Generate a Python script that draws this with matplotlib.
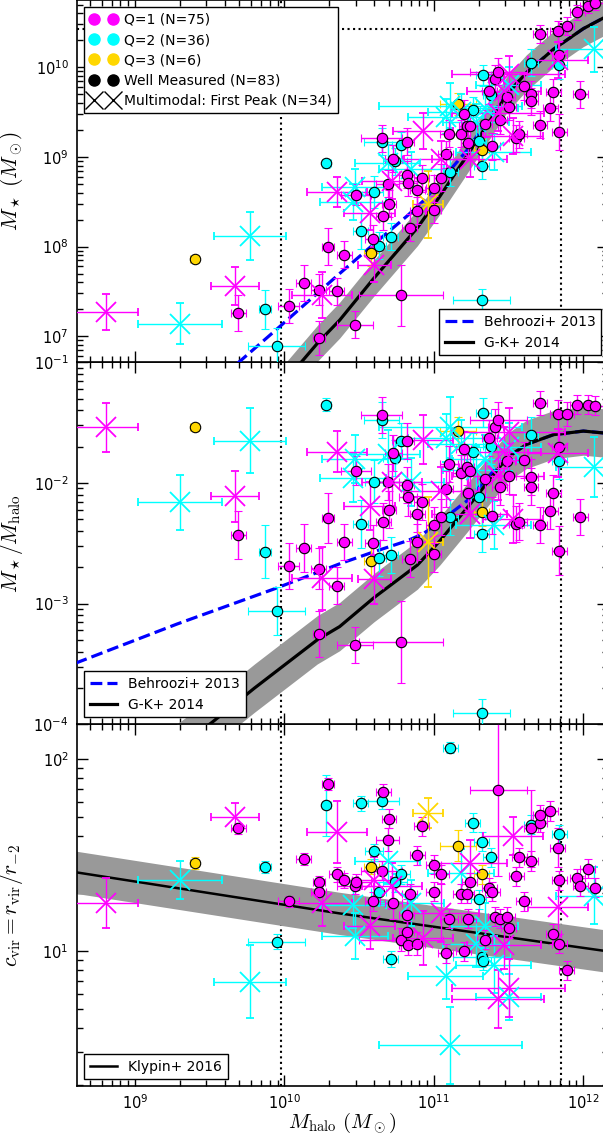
import numpy as np
import matplotlib
matplotlib.use("Agg")
import matplotlib.pyplot as plt
from matplotlib.lines import Line2D
from matplotlib.ticker import NullFormatter

plt.rcParams['font.family'] = 'DejaVu Sans'
plt.rcParams['mathtext.fontset'] = 'cm'
plt.rcParams['font.size'] = 10

# galaxy sample (log10 values, errors in dex)
quality = [1, 3, 2, 2, 1, 1, 2, 1, 1, 2, 1, 1, 1, 2, 1, 1, 1, 1,
           2, 2, 1, 1, 2, 1, 3, 1, 2, 1, 2, 1, 2, 1, 1, 2, 1, 1, 1, 2, 1, 2,
           1, 1, 1, 1, 1, 1, 1, 1, 3, 1, 1, 1, 1, 2, 1, 1, 2, 2, 3,
           1, 1, 1, 1, 1, 1, 2, 2, 2, 3, 2, 2, 1, 1, 2, 1, 2, 1, 1, 1,
           1, 1, 1, 1, 1, 1, 1, 1, 1, 2, 1, 1, 1, 1, 1, 1, 1, 1, 1, 2,
           1, 1, 1, 1, 1, 2, 1,
           2, 2, 2, 2, 2, 2]
multimodal = [1, 0, 1, 1, 1, 0, 0, 0, 0, 0, 0, 0, 1, 0, 0, 1, 0, 0,
              1, 1, 0, 0, 0, 1, 0, 0, 0, 1, 0, 0, 0, 0, 0, 0, 1, 0, 0, 0, 0, 0,
              0, 0, 0, 0, 0, 0, 0, 1, 1, 0, 0, 1, 0, 1, 0, 0, 0, 1, 0,
              0, 0, 0, 0, 0, 1, 0, 0, 0, 0, 0, 0, 0, 0, 0, 0, 1, 0, 0, 1,
              0, 1, 0, 1, 0, 1, 0, 0, 0, 0, 0, 0, 0, 0, 0, 0, 1, 0, 0, 0,
              0, 0, 0, 0, 0, 1, 0,
              1, 1, 1, 1, 1, 1]
log_mhalo = [8.81, 9.40, 9.77, 9.30, 9.67, 9.69, 9.87, 10.03, 10.13, 9.95,
             10.23, 10.23, 10.25, 10.28, 10.29, 10.35, 10.35, 10.40,
             10.46, 10.47, 10.47, 10.48, 10.51, 10.57, 10.58, 10.59, 10.60, 10.60,
             10.63, 10.65, 10.65, 10.66, 10.69, 10.71, 10.72, 10.70, 10.73, 10.74,
             10.78, 10.78, 10.82, 10.82, 10.83, 10.84, 10.89, 10.89, 10.92, 10.93,
             10.96, 11.00, 11.00, 11.05, 11.05, 11.08, 11.08, 11.10, 11.11, 11.11,
             11.16, 11.18, 11.20, 11.22, 11.23, 11.24, 11.24, 11.26, 11.30, 11.32,
             11.32, 11.32, 11.33, 11.34, 11.37, 11.38, 11.39, 11.40, 11.41, 11.43,
             11.43, 11.44, 11.47, 11.49, 11.50, 11.50, 11.53, 11.55, 11.57, 11.60,
             11.65, 11.65, 11.65, 11.71, 11.71, 11.78, 11.80, 11.83, 11.83, 11.84,
             11.84, 11.84, 11.89, 11.96, 11.98, 12.03, 12.07, 12.08,
             10.69, 11.18, 11.28, 11.34, 11.50, 10.85]
log_ratio = [-1.54, -1.54, -1.65, -2.16, -2.11, -2.43, -2.57, -2.69, -2.54, -3.06,
             -3.25, -2.71, -2.79, -1.35, -2.29, -1.74, -2.85, -2.49,
             -1.96, -1.80, -3.34, -1.90, -2.34, -2.19, -2.65, -2.50, -1.99, -2.80,
             -2.62, -1.44, -1.48, -2.32, -1.99, -2.60, -1.99, -2.22, -1.75, -1.79,
             -3.32, -1.65, -2.02, -1.65, -2.12, -2.63, -2.26, -2.49, -2.16, -1.64,
             -2.49, -2.35, -2.59, -2.07, -2.28, -1.63, -2.05, -1.84, -2.28, -1.54,
             -1.57, -1.92, -1.72, -1.87, -2.08, -1.90, -2.26, -1.74, -2.12, -2.42,
             -2.24, -3.91, -1.42, -1.97, -1.63, -1.69, -2.27, -2.35, -1.54, -1.48,
             -1.94, -2.03, -1.74, -1.82, -1.58, -1.94, -2.30, -2.34, -2.32, -1.81,
             -1.60, -1.95, -2.03, -1.34, -2.35, -2.23, -2.08, -1.75, -1.43, -1.70,
             -1.82, -2.56, -1.43, -1.35, -2.28, -1.35, -1.87, -1.36,
             -1.76, -1.68, -1.89, -1.80, -1.70, -1.99]
log_conc = [1.25, 1.46, 0.84, 1.37, 1.70, 1.64, 1.44, 1.26, 1.48, 1.05,
            1.36, 1.31, 1.25, 1.76, 1.87, 1.62, 1.40, 1.37,
            1.24, 1.08, 1.34, 1.36, 1.77, 1.13, 1.44, 1.26, 1.52, 1.37,
            1.31, 1.42, 1.78, 1.83, 1.58, 0.96, 1.34, 1.69, 1.25, 1.36,
            1.06, 1.40, 1.19, 1.10, 1.03, 1.30, 1.50, 1.04, 1.65, 1.07,
            1.72, 1.45, 1.31, 1.20, 1.40, 0.87, 0.99, 1.17, 2.06, 0.51,
            1.55, 1.30, 1.00, 1.30, 1.17, 1.36, 1.46, 1.67, 1.27, 1.57,
            1.40, 0.97, 0.95, 1.06, 1.33, 1.49, 1.31, 0.93, 1.18, 1.84,
            0.75, 1.17, 1.03, 1.18, 0.81, 1.12, 1.60, 1.39, 1.49, 1.26,
            1.66, 1.64, 1.47, 1.67, 1.71, 1.73, 1.09, 1.23, 1.54, 1.04,
            1.61, 1.37, 0.90, 1.38, 1.34, 1.43, 1.29, 1.33,
            1.47, 1.41, 1.04, 1.13, 0.76, 1.25]
err_mhalo = [0.21, 0.03, 0.24, 0.28, 0.16, 0.05, 0.04, 0.07, 0.05, 0.19,
             0.04, 0.05, 0.20, 0.03, 0.04, 0.20, 0.05, 0.05,
             0.22, 0.22, 0.12, 0.10, 0.05, 0.17, 0.05, 0.05, 0.06, 0.11,
             0.05, 0.14, 0.12, 0.05, 0.08, 0.05, 0.20, 0.05, 0.06, 0.08,
             0.28, 0.06, 0.05, 0.05, 0.06, 0.05, 0.05, 0.05, 0.05, 0.20,
             0.10, 0.05, 0.05, 0.25, 0.05, 0.25, 0.05, 0.06, 0.05, 0.48,
             0.12, 0.05, 0.05, 0.05, 0.05, 0.05, 0.25, 0.05, 0.05, 0.05,
             0.05, 0.19, 0.05, 0.05, 0.05, 0.05, 0.05, 0.25, 0.05, 0.19,
             0.31, 0.05, 0.25, 0.05, 0.38, 0.05, 0.20, 0.05, 0.05, 0.05,
             0.05, 0.05, 0.05, 0.05, 0.05, 0.05, 0.05, 0.20, 0.05, 0.05,
             0.05, 0.05, 0.05, 0.05, 0.05, 0.05, 0.25, 0.05,
             0.22, 0.22, 0.22, 0.22, 0.22, 0.22]
err_ratio = [0.20, 0.03, 0.27, 0.23, 0.21, 0.20, 0.22, 0.19, 0.20, 0.20,
             0.19, 0.17, 0.26, 0.05, 0.21, 0.17, 0.15, 0.15,
             0.20, 0.20, 0.15, 0.12, 0.20, 0.20, 0.15, 0.15, 0.18, 0.20,
             0.15, 0.15, 0.15, 0.15, 0.15, 0.15, 0.20, 0.15, 0.15, 0.15,
             0.34, 0.15, 0.15, 0.15, 0.15, 0.15, 0.15, 0.15, 0.15, 0.20,
             0.37, 0.15, 0.15, 0.20, 0.15, 0.20, 0.15, 0.15, 0.15, 0.25,
             0.12, 0.15, 0.15, 0.15, 0.15, 0.15, 0.20, 0.15, 0.15, 0.15,
             0.12, 0.12, 0.12, 0.15, 0.15, 0.15, 0.15, 0.20, 0.15, 0.15,
             0.20, 0.15, 0.20, 0.15, 0.20, 0.15, 0.20, 0.15, 0.15, 0.15,
             0.15, 0.15, 0.15, 0.10, 0.15, 0.15, 0.15, 0.20, 0.12, 0.15,
             0.15, 0.20, 0.10, 0.08, 0.15, 0.08, 0.25, 0.08,
             0.20, 0.20, 0.20, 0.20, 0.20, 0.20]
err_conc = [0.13, 0.03, 0.19, 0.10, 0.07, 0.03, 0.03, 0.03, 0.03, 0.04,
            0.03, 0.03, 0.12, 0.16, 0.03, 0.16, 0.04, 0.04,
            0.12, 0.12, 0.04, 0.04, 0.04, 0.12, 0.04, 0.05, 0.04, 0.12,
            0.05, 0.05, 0.04, 0.04, 0.06, 0.04, 0.12, 0.05, 0.08, 0.05,
            0.06, 0.05, 0.08, 0.06, 0.05, 0.05, 0.05, 0.06, 0.05, 0.14,
            0.08, 0.05, 0.05, 0.15, 0.05, 0.12, 0.05, 0.05, 0.03, 0.20,
            0.08, 0.05, 0.05, 0.05, 0.05, 0.05, 0.12, 0.05, 0.05, 0.05,
            0.05, 0.05, 0.05, 0.05, 0.05, 0.05, 0.05, 0.15, 0.05, 0.45,
            0.15, 0.05, 0.12, 0.05, 0.15, 0.05, 0.10, 0.05, 0.05, 0.05,
            0.05, 0.20, 0.05, 0.05, 0.05, 0.05, 0.05, 0.15, 0.10, 0.05,
            0.05, 0.05, 0.05, 0.05, 0.05, 0.05, 0.15, 0.05,
            0.12, 0.12, 0.12, 0.12, 0.12, 0.12]

# stellar-to-halo mass relations (log10 Mhalo, log10 M*/Mhalo)
behroozi_logm = [8.5, 8.61, 9.28, 9.95, 10.37, 10.60, 10.82, 10.93, 11.04,
                 11.22, 11.40, 11.49, 11.62, 11.80, 12.00, 12.13, 12.25]
behroozi_logratio = [-3.55, -3.49, -3.17, -2.87, -2.67, -2.57, -2.48, -2.42,
                     -2.32, -2.15, -1.90, -1.79, -1.68, -1.60, -1.57, -1.585, -1.60]
gk_logm = [9.2, 9.51, 9.80, 10.22, 10.37, 10.60, 10.89, 11.04, 11.22, 11.33,
           11.49, 11.62, 11.80, 12.00, 12.13, 12.25]
gk_logratio = [-4.27, -3.99, -3.70, -3.30, -3.19, -2.95, -2.68, -2.48, -2.21,
               -2.04, -1.79, -1.68, -1.60, -1.57, -1.585, -1.60]
gk_scatter = 0.2

# concentration-mass relation (log10 Mhalo, log10 c)
klypin_logm = [8.5, 10.37, 12.25]
klypin_logc = [1.424, 1.197, 0.99]
klypin_scatter = 0.11

mass_limits = [9.5e9, 7.1e11]
mstar_limit = 2.7e10

colors = {1: 'magenta', 2: 'cyan', 3: 'gold'}

quality = np.array(quality)
multimodal = np.array(multimodal)
log_mhalo = np.array(log_mhalo)
log_ratio = np.array(log_ratio)
log_conc = np.array(log_conc)
err_mhalo = np.array(err_mhalo)
err_ratio = np.array(err_ratio)
err_conc = np.array(err_conc)


def dex_err(v, e):
    return np.vstack([10**v - 10**(v - e), 10**(v + e) - 10**v])


fig = plt.figure(figsize=(6.03, 11.39), dpi=100)
left, width, h = 77 / 603., 531 / 603., 362 / 1139.
bot = 52.7 / 1139.
ax3 = fig.add_axes([left, bot, width, h])
ax2 = fig.add_axes([left, bot + h, width, h], sharex=ax3)
ax1 = fig.add_axes([left, bot + 2 * h, width, h], sharex=ax3)

panels = [(ax1, log_mhalo + log_ratio, err_ratio),
          (ax2, log_ratio, err_ratio),
          (ax3, log_conc, err_conc)]

for ax, yv, ye in panels:
    ax.set_xscale('log')
    ax.set_yscale('log')
    for q in (3, 2, 1):
        for mm in (0, 1):
            sel = (quality == q) & (multimodal == mm)
            if not sel.any():
                continue
            if mm:
                style = dict(fmt='x', ms=14, mew=1.3)
            else:
                style = dict(fmt='o', ms=7.5, mec='k', mew=0.8)
            ax.errorbar(10**log_mhalo[sel], 10**yv[sel],
                        xerr=dex_err(log_mhalo[sel], err_mhalo[sel]),
                        yerr=dex_err(yv[sel], ye[sel]),
                        color=colors[q], ecolor=colors[q], elinewidth=1,
                        capsize=3, capthick=1, zorder=4, **style)
    for m in mass_limits:
        ax.axvline(m, color='k', ls=':', lw=1.5, zorder=1)

# stellar mass and stellar-to-halo ratio relations
bm = 10**np.array(behroozi_logm)
gm = 10**np.array(gk_logm)
br = 10**np.array(behroozi_logratio)
gr = 10**np.array(gk_logratio)
band = 10**gk_scatter
for ax, scale_b, scale_g in [(ax1, bm, gm), (ax2, 1, 1)]:
    ax.fill_between(gm, gr * scale_g / band, gr * scale_g * band,
                    color='0.6', lw=0, zorder=2)
    ax.plot(bm, br * scale_b, color='b', ls='--', lw=2.3, zorder=3,
            label='Behroozi+ 2013')
    ax.plot(gm, gr * scale_g, color='k', lw=2.3, zorder=3, label='G-K+ 2014')

ax1.axhline(mstar_limit, color='k', ls=':', lw=1.5, zorder=1)

km = 10**np.array(klypin_logm)
kc = 10**np.array(klypin_logc)
ax3.fill_between(km, kc / 10**klypin_scatter, kc * 10**klypin_scatter,
                 color='0.6', lw=0, zorder=2)
ax3.plot(km, kc, color='k', lw=1.8, zorder=3, label='Klypin+ 2016')

ax3.set_xlim(4.1e8, 10**12.165)
ax1.set_ylim(10**6.71, 10**10.746)
ax2.set_ylim(1e-4, 1e-1)
ax3.set_ylim(1.98, 152)

for ax in (ax1, ax2, ax3):
    ax.tick_params(which='both', direction='in', top=True, right=True,
                   labelsize=10.5, width=1)
    ax.tick_params(which='major', length=8, pad=6)
    ax.tick_params(which='minor', length=4)
    ax.yaxis.set_minor_formatter(NullFormatter())
    ax.xaxis.set_minor_formatter(NullFormatter())
    for sp in ax.spines.values():
        sp.set_linewidth(1.2)
    ax.yaxis.set_label_coords(-0.098, 0.5)
for ax in (ax1, ax2):
    plt.setp(ax.get_xticklabels(), visible=False)
ax3.tick_params(axis='x', which='major', pad=5)

ax1.set_ylabel(r'$M_\star\ (M_\odot)$', fontsize=15.5)
ax2.set_ylabel(r'$M_\star/M_{\rm halo}$', fontsize=15.5)
ax3.set_ylabel(r'$c_{\rm vir} = r_{\rm vir}/r_{-2}$', fontsize=15.5)
ax3.set_xlabel(r'$M_{\rm halo}\ (M_\odot)$', fontsize=15, labelpad=-1)

# legends
key = [Line2D([], [], marker='o', ls='none', color=colors[1], ms=8),
       Line2D([], [], marker='o', ls='none', color=colors[2], ms=8),
       Line2D([], [], marker='o', ls='none', color=colors[3], ms=8),
       Line2D([], [], marker='o', ls='none', color='k', ms=8),
       Line2D([], [], marker='x', ls='none', color='k', ms=13, mew=1)]
key_labels = ['Q=1 (N=75)', 'Q=2 (N=36)', 'Q=3 (N=6)', 'Well Measured (N=83)',
              'Multimodal: First Peak (N=34)']
leg_kw = dict(fontsize=10, fancybox=False, edgecolor='k', framealpha=1,
              handlelength=2.0)
leg = ax1.legend(key, key_labels, loc='upper left', numpoints=2,
                 handletextpad=0.5, labelspacing=0.45, **leg_kw)
leg.get_frame().set_linewidth(1)
ax1.add_artist(leg)
for ax, loc in [(ax1, 'lower right'), (ax2, 'lower left'), (ax3, 'lower left')]:
    lg = ax.legend(loc=loc, **leg_kw)
    lg.get_frame().set_linewidth(1)

fig.savefig('out.png', dpi=100)
